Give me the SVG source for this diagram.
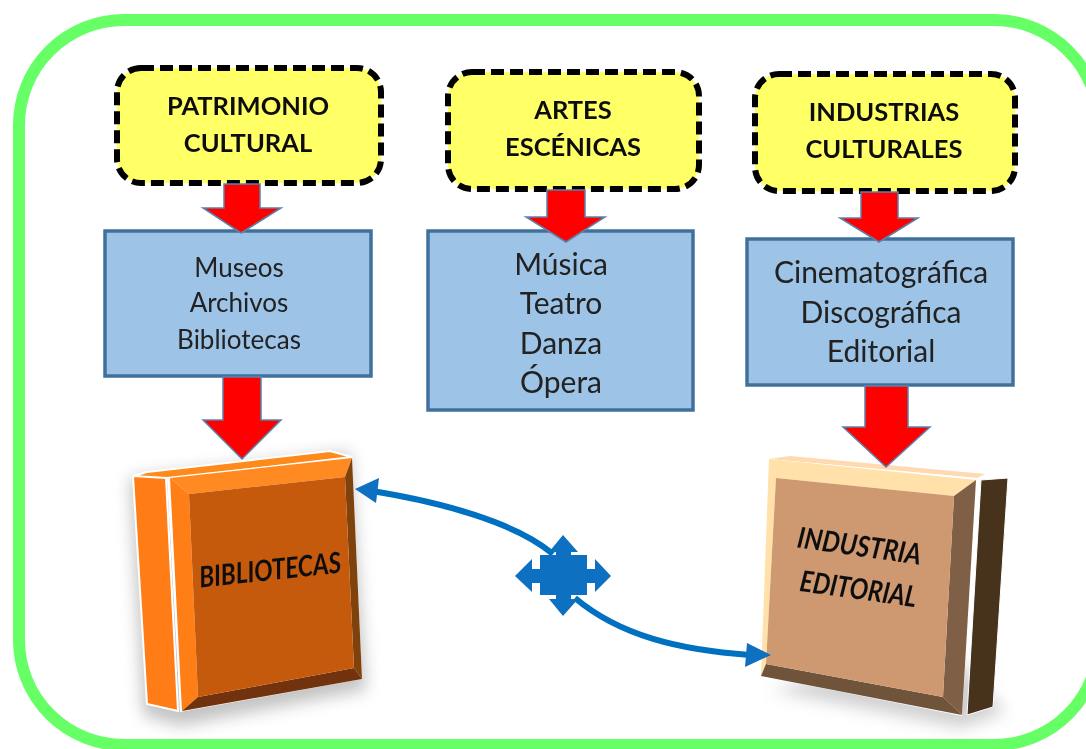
<svg xmlns="http://www.w3.org/2000/svg" width="1086" height="749" viewBox="0 0 1086 749">
<style>
text{font-family:"Lato","Carlito","Open Sans",sans-serif;text-anchor:middle;fill:#111}
.y rect{fill:#FFFF66;stroke:#000;stroke-width:6;stroke-dasharray:13 6}
.y text{font-size:25.5px;font-weight:700}
.b rect{fill:#9DC3E6;stroke:#41719C;stroke-width:3.5}
.b text{font-size:26px;fill:#222}
.b.big text{font-size:30px}
.r{fill:#F00;stroke:#5B82AC;stroke-width:1.5}
.bk text{font-size:29px;font-weight:700;font-style:italic;fill:#111}
.link{fill:none;stroke:#0070C0;stroke-width:6}
.blue{fill:#0F6FC0}
</style>
<defs>
<filter id="s" x="-30%" y="-30%" width="160%" height="160%"><feGaussianBlur stdDeviation="8"/></filter>
<filter id="soft" filterUnits="userSpaceOnUse" x="0" y="0" width="1086" height="749"><feGaussianBlur stdDeviation="0.7"/></filter>
</defs>
<rect width="1086" height="749" fill="#fff"/>
<g filter="url(#soft)">
<rect id="frame" x="19" y="20" width="1080" height="725" rx="105" ry="105" fill="#fff" stroke="#66FF66" stroke-width="12"/>
<g id="n1" class="y"><rect x="117" y="68" width="264" height="115" rx="24"/><text x="248" y="115">PATRIMONIO</text><text x="248" y="152">CULTURAL</text></g>
<g id="n2" class="y"><rect x="448" y="72" width="251" height="117" rx="24"/><text x="573" y="119">ARTES</text><text x="573" y="156">ESCÉNICAS</text></g>
<g id="n3" class="y"><rect x="755" y="74" width="260" height="117" rx="24"/><text x="884" y="121">INDUSTRIAS</text><text x="884" y="158">CULTURALES</text></g>
<g id="n4" class="b"><rect x="105" y="231" width="266" height="145"/><text x="239" y="277">Museos</text><text x="239" y="312">Archivos</text><text x="239" y="349">Bibliotecas</text></g>
<g id="n5" class="b big"><rect x="428" y="231" width="265" height="179"/><text x="561" y="275">Música</text><text x="561" y="314">Teatro</text><text x="561" y="354">Danza</text><text x="561" y="393">Ópera</text></g>
<g id="n6" class="b big"><rect x="747" y="239" width="266" height="146"/><text x="881" y="283">Cinematográfica</text><text x="881" y="323">Discográfica</text><text x="881" y="362">Editorial</text></g>
<g id="n7" class="bk">
<path d="M130 478L350 452L366 690L180 726L143 715Z" fill="#888" opacity=".5" filter="url(#s)"/>
<path d="M133 476L147 472L330 451L352 457L167 479Z" fill="#FF8A1F" stroke="#fff" stroke-width="2"/>
<path d="M133 476L166 478L178 711L147 704Z" fill="#FF7C14" stroke="#fff" stroke-width="2"/>
<path d="M167 477L352 457L362 679L180 712Z" fill="#fff"/>
<path d="M170 478L352 458L345 477L189 494Z" fill="#FF8A22"/>
<path d="M170 478L189 494L198 697L182 711Z" fill="#FF7F18"/>
<path d="M352 458L362 679L354 668L345 477Z" fill="#7F4208"/>
<path d="M182 711L198 697L354 668L362 679Z" fill="#723207"/>
<path d="M189 494L345 477L354 668L198 697Z" fill="#C55A11"/>
<text transform="translate(271 580) rotate(-6) scale(.84 1)">BIBLIOTECAS</text>
</g>
<g id="n8" class="bk">
<path d="M770 690L962 728L1005 712L950 650Z" fill="#999" opacity=".45" filter="url(#s)"/>
<path d="M790 456L985 474L977 478L769 459Z" fill="#FFD9B0"/>
<path d="M981 480L1008 478L993 707L967 715Z" fill="#46301F" stroke="#fff" stroke-width="1"/>
<path d="M769 459L977 478L962 716L761 676Z" fill="#fff"/>
<path d="M769 459L976 480L954 496L776 478L766 664L761 676Z" fill="#FFE1A9"/>
<path d="M976 480L962 715L943 697L954 496Z" fill="#7F5F45"/>
<path d="M761 676L766 664L943 697L962 715Z" fill="#70523A"/>
<path d="M776 478L954 496L943 697L766 664Z" fill="#CE9870"/>
<text transform="translate(858 556) rotate(8) scale(.86 1)">INDUSTRIA</text>
<text transform="translate(857 599) rotate(8) scale(.84 1)">EDITORIAL</text>
</g>
<g id="connectors">
<path class="r" d="M224 184H260V208H281L241 233L203 208H224Z"/>
<path class="r" d="M547 190H585V217H605L566 242L526 217H547Z"/>
<path class="r" d="M861 192H898V218H918L879 242L840 218H861Z"/>
<path class="r" d="M223 377H261V420H281L242 459L203 420H223Z"/>
<path class="r" d="M865 386H908V427H930L886 467L843 427H865Z"/>
<path class="link" d="M372 491C440 502 515 522 553 554"/>
<path class="blue" d="M355 489L379 478L376 503Z"/>
<path class="link" d="M575 598C620 636 680 650 750 655"/>
<path class="blue" d="M771 655L747 643L745 667Z"/>
<path id="cross" class="blue" d="M563 535L578 552H571V555H587V569H595V559L611 576L595 592V583H587V595H571V599H578L563 616L549 599H556V595H540V583H532V592L515 576L532 559V569H540V555H556V552H549Z"/>
</g>
</g>
</svg>
